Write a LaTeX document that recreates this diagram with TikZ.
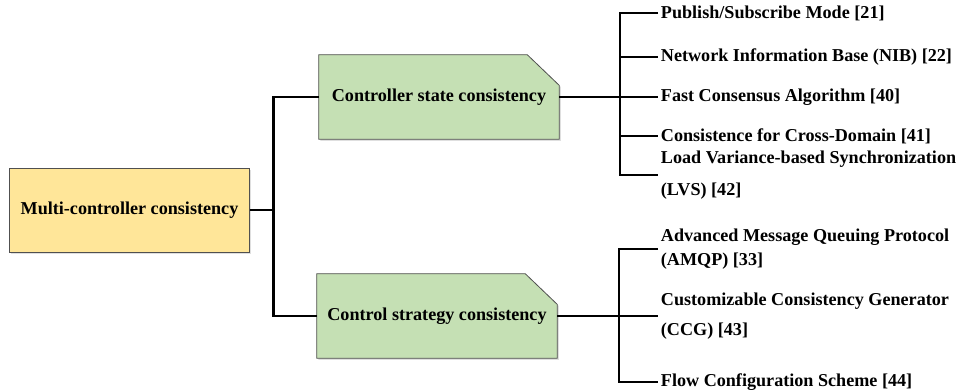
\documentclass[tikz,border=0pt]{standalone}
\usepackage{fontspec}
\setmainfont{Liberation Serif}
\usetikzlibrary{backgrounds,shadows}

\definecolor{rootfill}{HTML}{FFE699}
\definecolor{midfill}{HTML}{C5E0B4}
\definecolor{boxline}{HTML}{505050}

\tikzset{
  boxfont/.style={font=\bfseries\fontsize{13.6}{15}\selectfont},
  rootbox/.style={boxfont,draw=boxline,fill=rootfill,line width=0.6pt,
    minimum width=180pt,minimum height=63pt,
    drop shadow={opacity=0.25,shadow xshift=1.2pt,shadow yshift=-1.2pt}},
  midbox/.style={boxfont,minimum width=180pt,minimum height=63pt},
  leaf/.style={boxfont,anchor=west,align=left,inner sep=2pt},
  trunk/.style={line width=2.2pt},
  twig/.style={line width=1.5pt},
}

\begin{document}
\begin{tikzpicture}[x=0.75pt,y=0.75pt]
  \useasboundingbox (0,0) rectangle (965,392);

  \node[rootbox] (root) at (129.5,182) {Multi-controller consistency};
  \node[midbox] (state) at (439,295) {Controller state consistency};
  \node[midbox] (strategy) at (437,76) {Control strategy consistency};

  % boxes with cut corner
  \begin{scope}[on background layer]
    \draw[draw=boxline,fill=midfill,line width=0.6pt,
      drop shadow={opacity=0.25,shadow xshift=1.2pt,shadow yshift=-1.2pt}]
      (state.south west) -- (state.north west) -- ([xshift=-24]state.north east)
      -- ([yshift=-23]state.north east) -- (state.south east) -- cycle;
    \draw[draw=boxline,fill=midfill,line width=0.6pt,
      drop shadow={opacity=0.25,shadow xshift=1.2pt,shadow yshift=-1.2pt}]
      (strategy.south west) -- (strategy.north west) -- ([xshift=-24]strategy.north east)
      -- ([yshift=-23]strategy.north east) -- (strategy.south east) -- cycle;
  \end{scope}

  \node[leaf] (p1) at (658,379) {Publish/Subscribe Mode [21]};
  \node[leaf] (n2) at (658,335) {Network Information Base (NIB) [22]};
  \node[leaf] (f3) at (658,295) {Fast Consensus Algorithm [40]};
  \node[leaf] (c4) at (658,256) {Consistence for Cross-Domain [41]};
  \node[leaf] (l5) at (658,217) {Load Variance-based Synchronization\\[9.5pt](LVS) [42]};

  \node[leaf] (a6) at (658,143) {Advanced Message Queuing Protocol\\[3.5pt](AMQP) [33]};
  \node[leaf] (g7) at (658,76) {Customizable Consistency Generator\\[7.5pt](CCG) [43]};
  \node[leaf] (f8) at (658,10) {Flow Configuration Scheme [44]};

  % main tree
  \draw[trunk] (root.east) -- ++(24,0) coordinate (hub);
  \draw[trunk,line join=miter] (state.west) -| (hub) |- (strategy.west);

  % first group
  \coordinate (b1) at (620,295);
  \draw[twig] (state.east) -- (b1);
  \draw[twig] (p1.west) -| (b1 |- l5.west) -- (l5.west);
  \foreach \leafname in {n2,f3,c4}
    \draw[twig] (b1 |- \leafname.west) -- (\leafname.west);

  % second group
  \coordinate (b2) at (619,76);
  \draw[twig] (strategy.east) -- (b2);
  \draw[twig] (a6.west) -| (b2 |- f8.west) -- (f8.west);
  \draw[twig] (b2) -- (g7.west);
\end{tikzpicture}
\end{document}
